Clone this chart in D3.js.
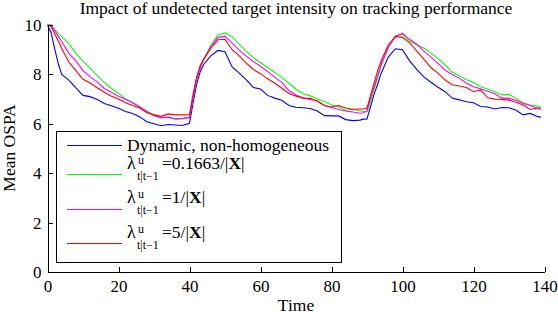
<!DOCTYPE html>
<html>
<head>
<meta charset="utf-8">
<script src="https://cdn.jsdelivr.net/npm/d3@7"></script>
<style>
  body { margin: 0; background: #fff; }
  svg { display: block; }
  svg text { font-family: "Liberation Serif", "Times New Roman", serif; fill: #000; }
</style>
</head>
<body>
<svg id="chart" width="558" height="312"></svg>
<script>
// time steps (denser around the jumps)
const time = [0,1,2,3,4,6,8,10,12,14,16,18,20,22,24,26,28,30,32,34,36,38,
  40,41,42,43,44,46,48,50,52,54,56,58,60,62,64,66,68,70,72,74,76,78,80,82,84,86,88,
  89,90,91,92,93,94,96,98,100,102,104,106,108,110,112,114,116,118,120,122,124,126,128,130,132,134,136,138,139];

const dynamicOspa = [10,9.7,9.05,8.45,8.0,7.77,7.45,7.15,7.1,6.98,6.82,6.73,6.63,6.5,6.42,6.28,6.08,6.0,5.92,5.97,5.95,5.93,
  6.02,6.85,7.6,8.1,8.4,8.75,8.97,8.92,8.3,8.05,7.78,7.47,7.41,7.15,7.04,6.95,6.74,6.67,6.65,6.62,6.52,6.33,6.32,6.32,6.17,6.13,6.15,
  6.19,6.2,6.7,7.2,7.6,8.05,8.7,9.04,9.0,8.55,8.2,7.9,7.68,7.48,7.3,7.04,6.97,6.89,6.85,6.7,6.68,6.6,6.66,6.65,6.55,6.36,6.42,6.3,6.26];

const lambdaLowOspa = [10,10,9.82,9.66,9.53,9.25,8.85,8.54,8.25,7.95,7.68,7.43,7.24,7.0,6.85,6.67,6.5,6.38,6.28,6.25,6.2,6.2,
  6.27,7.05,7.8,8.25,8.6,9.18,9.6,9.68,9.52,9.22,8.93,8.68,8.47,8.28,8.08,7.87,7.64,7.4,7.22,7.13,7.0,6.9,6.76,6.69,6.55,6.58,6.53,
  6.5,6.5,6.9,7.4,7.85,8.38,9.1,9.56,9.62,9.35,9.2,9.07,8.86,8.64,8.38,8.09,7.95,7.78,7.67,7.5,7.41,7.3,7.17,7.19,7.03,6.85,6.76,6.72,6.67];

const lambdaOneOspa = [10,10,9.78,9.55,9.33,8.85,8.55,8.15,7.9,7.7,7.43,7.28,7.12,6.99,6.85,6.68,6.5,6.33,6.24,6.27,6.2,6.22,
  6.25,7.05,7.8,8.25,8.6,9.12,9.5,9.55,9.28,8.98,8.74,8.52,8.33,8.12,7.89,7.68,7.35,7.17,7.05,6.99,6.93,6.74,6.66,6.58,6.52,6.48,6.43,
  6.45,6.52,7.05,7.5,7.95,8.4,9.1,9.55,9.66,9.42,9.22,8.95,8.7,8.45,8.18,8.0,7.85,7.65,7.5,7.42,7.32,7.22,7.05,7.03,6.95,6.82,6.74,6.62,6.58];

const lambdaFiveOspa = [10,9.95,9.65,9.36,9.05,8.5,8.15,7.8,7.65,7.46,7.28,7.12,7.0,6.85,6.74,6.64,6.45,6.36,6.3,6.4,6.36,6.36,
  6.37,7.2,7.9,8.35,8.62,9.05,9.4,9.42,9.0,8.75,8.46,8.2,8.03,7.82,7.65,7.44,7.23,7.12,7.04,7.03,6.91,6.74,6.68,6.74,6.64,6.59,6.6,
  6.6,6.63,7.15,7.65,8.15,8.55,9.2,9.53,9.5,9.28,8.95,8.62,8.28,8.05,7.77,7.58,7.53,7.47,7.3,7.37,7.05,7.0,6.99,6.96,6.87,6.76,6.58,6.64,6.64];

const xTicks = [0,20,40,60,80,100,120,140];
const yTicks = [0,2,4,6,8,10];
const lambdaValues = ["0.1663", "1", "5"];

const series = [
  { name: "Dynamic, non-homogeneous", values: dynamicOspa, color: "#0000ff" },
  { lambda: lambdaValues[0], values: lambdaLowOspa, color: "#00ff00" },
  { lambda: lambdaValues[1], values: lambdaOneOspa, color: "#ff00ff" },
  { lambda: lambdaValues[2], values: lambdaFiveOspa, color: "#ff0000" }
];

const svg = d3.select("#chart");

const x = d3.scaleLinear().domain([0, 140]).range([47.5, 544.5]);
const y = d3.scaleLinear().domain([0, 10]).range([272, 25]);

// lines
const line = d3.line()
  .x((d, i) => x(time[i]))
  .y(d => y(d));

svg.append("g")
  .selectAll("path")
  .data(series)
  .join("path")
  .attr("d", d => line(d.values))
  .attr("fill", "none")
  .attr("stroke", d => d.color)
  .attr("stroke-width", 1.1);

// axes, matlab style ticks pointing inward
const xAxis = svg.append("g")
  .attr("transform", "translate(0,272)")
  .call(d3.axisBottom(x).tickValues(xTicks).tickSizeInner(-5).tickSizeOuter(0).tickPadding(8));

const yAxis = svg.append("g")
  .attr("transform", "translate(47.5,0)")
  .call(d3.axisLeft(y).tickValues(yTicks).tickSizeInner(-5).tickSizeOuter(0).tickPadding(6));

[xAxis, yAxis].forEach(g => {
  g.attr("font-family", "Liberation Serif").attr("font-size", 17);
  g.selectAll("path, line").attr("stroke", "#000").attr("shape-rendering", "crispEdges");
});

// titles
svg.append("text")
  .attr("x", 296).attr("y", 13.5)
  .attr("text-anchor", "middle")
  .attr("font-size", 17.5)
  .text("Impact of undetected target intensity on tracking performance");

svg.append("text")
  .attr("x", 296).attr("y", 310.5)
  .attr("text-anchor", "middle")
  .attr("font-size", 17.5)
  .text("Time");

svg.append("text")
  .attr("transform", "translate(15,148) rotate(-90)")
  .attr("text-anchor", "middle")
  .attr("font-size", 17.5)
  .text("Mean OSPA");

// legend
const legend = svg.append("g");
legend.append("rect")
  .attr("x", 56.5).attr("y", 131.5)
  .attr("width", 285).attr("height", 131)
  .attr("fill", "#fff").attr("stroke", "#000")
  .attr("shape-rendering", "crispEdges");

const lineY = [145, 174, 208.5, 243];

series.forEach((s, i) => {
  legend.append("line")
    .attr("x1", 67).attr("x2", 122)
    .attr("y1", lineY[i] + 0.5).attr("y2", lineY[i] + 0.5)
    .attr("stroke", s.color)
    .attr("shape-rendering", "crispEdges");

  if (s.name) {
    legend.append("text")
      .attr("x", 127).attr("y", 151)
      .attr("font-size", 17.5)
      .text(s.name);
  } else {
    const base = lineY[i] - 5.5;
    legend.append("text")
      .attr("x", 127).attr("y", base)
      .attr("font-size", 18)
      .text("\u03bb");
    legend.append("text")
      .attr("x", 138).attr("y", base - 5)
      .attr("font-size", 12)
      .text("u");
    legend.append("text")
      .attr("x", 137).attr("y", base + 11)
      .attr("font-size", 12)
      .text("t|t\u22121");
    const t = legend.append("text")
      .attr("x", 162).attr("y", base)
      .attr("font-size", 17.5);
    t.append("tspan").text("=" + s.lambda + "/|");
    t.append("tspan").attr("font-weight", "bold").text("X");
    t.append("tspan").text("|");
  }
});
</script>
</body>
</html>
